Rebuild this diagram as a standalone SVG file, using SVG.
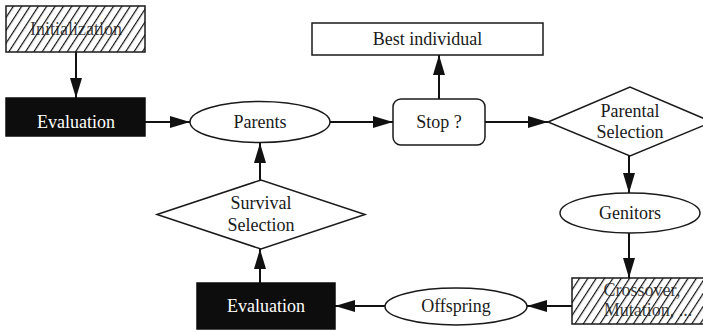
<svg xmlns="http://www.w3.org/2000/svg" width="703" height="332" viewBox="0 0 703 332">
  <style>
    .box { fill: #fff; stroke: #1a1a1a; stroke-width: 1.5; }
    .hatch { fill: url(#diag); stroke: #1a1a1a; stroke-width: 1.5; }
    .dark { fill: #0d0d0d; stroke: #0d0d0d; stroke-width: 1.5; }
    .lbl { font-family: "Liberation Serif", "Times New Roman", serif; font-size: 18px; fill: #1a1a1a; text-anchor: middle; }
    .lbl-inv { font-family: "Liberation Serif", "Times New Roman", serif; font-size: 18px; fill: #fff; text-anchor: middle; }
    .edge { fill: none; stroke: #111; stroke-width: 2; marker-end: url(#head); }
  </style>
  <defs>
    <pattern id="diag" width="7" height="7" patternUnits="userSpaceOnUse" patternTransform="rotate(33)">
      <rect width="7" height="7" fill="#fff"/>
      <line x1="0.6" y1="0" x2="0.6" y2="7" stroke="#111" stroke-width="1.2"/>
    </pattern>
    <marker id="head" viewBox="0 0 20 12" refX="20" refY="6" markerWidth="20" markerHeight="12" markerUnits="userSpaceOnUse" orient="auto">
      <path d="M0,0 L20,6 L0,12 Z" fill="#111"/>
    </marker>
  </defs>

  <g id="connectors">
    <line class="edge" x1="76" y1="52" x2="76" y2="98"/>
    <line class="edge" x1="145" y1="122" x2="190" y2="122"/>
    <line class="edge" x1="330" y1="122" x2="393" y2="122"/>
    <line class="edge" x1="439" y1="99" x2="439" y2="55"/>
    <line class="edge" x1="485" y1="122" x2="548" y2="122"/>
    <line class="edge" x1="629" y1="156" x2="629" y2="193"/>
    <line class="edge" x1="629" y1="233" x2="629" y2="278"/>
    <line class="edge" x1="572" y1="306" x2="527" y2="306"/>
    <line class="edge" x1="385" y1="306" x2="335" y2="306"/>
    <line class="edge" x1="260" y1="283" x2="260" y2="249"/>
    <line class="edge" x1="260" y1="180" x2="260" y2="143"/>
  </g>

  <g id="initialization">
    <rect class="hatch" x="6" y="6" width="139" height="46"/>
    <text class="lbl" x="76" y="35" fill-opacity="0.85">Initialization</text>
  </g>

  <g id="evaluation-top">
    <rect class="dark" x="6" y="98" width="139" height="38"/>
    <text class="lbl-inv" x="76" y="128">Evaluation</text>
  </g>

  <g id="parents">
    <ellipse class="box" cx="260" cy="122" rx="70" ry="20.5"/>
    <text class="lbl" x="260" y="128">Parents</text>
  </g>

  <g id="stop">
    <rect class="box" x="393" y="99" width="92" height="46" rx="8"/>
    <text class="lbl" x="439" y="128">Stop ?</text>
  </g>

  <g id="best-individual">
    <rect class="box" x="312" y="23" width="231" height="32"/>
    <text class="lbl" x="427.5" y="45">Best individual</text>
  </g>

  <g id="parental-selection">
    <polygon class="box" points="548,122 630,87 712,122 630,156"/>
    <text class="lbl" x="630" y="117">Parental</text>
    <text class="lbl" x="630" y="138">Selection</text>
  </g>

  <g id="genitors">
    <ellipse class="box" cx="630" cy="213" rx="70" ry="20"/>
    <text class="lbl" x="630" y="219">Genitors</text>
  </g>

  <g id="variation">
    <rect class="hatch" x="572" y="278" width="140" height="46"/>
    <text class="lbl" x="642" y="296" fill-opacity="0.85">Crossover,</text>
    <text class="lbl" x="648" y="316" fill-opacity="0.85">Mutation, ...</text>
  </g>

  <g id="offspring">
    <ellipse class="box" cx="456" cy="306.5" rx="71" ry="18.5"/>
    <text class="lbl" x="456" y="312">Offspring</text>
  </g>

  <g id="evaluation-bottom">
    <rect class="dark" x="197" y="283" width="138" height="46"/>
    <text class="lbl-inv" x="266" y="312">Evaluation</text>
  </g>

  <g id="survival-selection">
    <polygon class="box" points="157,214.5 261,180 365,214.5 261,249"/>
    <text class="lbl" x="261" y="209">Survival</text>
    <text class="lbl" x="261" y="231">Selection</text>
  </g>
</svg>
